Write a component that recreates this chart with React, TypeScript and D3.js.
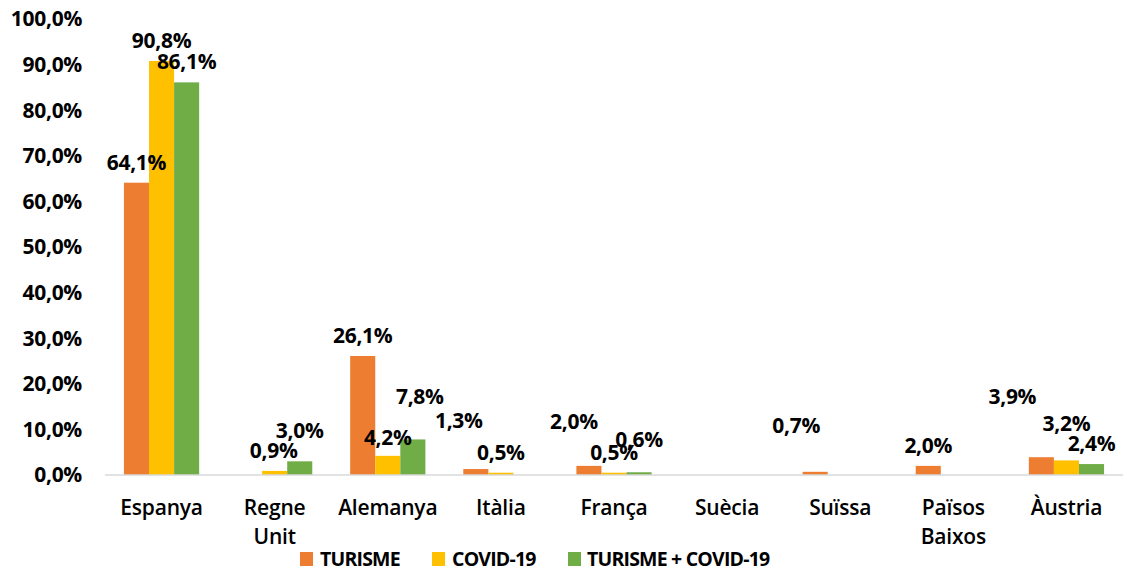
import React from "react";
import * as d3 from "d3";

const categories: string[][] = [
  ["Espanya"], ["Regne", "Unit"], ["Alemanya"], ["Itàlia"], ["França"],
  ["Suècia"], ["Suïssa"], ["Països", "Baixos"], ["Àustria"],
];
const seriesNames = ["TURISME", "COVID-19", "TURISME + COVID-19"];
const turisme = [64.1, null, 26.1, 1.3, 2.0, null, 0.7, 2.0, 3.9];
const covid = [90.8, 0.9, 4.2, 0.5, 0.5, null, null, null, 3.2];
const ambdos = [86.1, 3.0, 7.8, null, 0.6, null, null, null, 2.4];
const yTicks = [0, 10, 20, 30, 40, 50, 60, 70, 80, 90, 100];
const colors = ["#ED7D31", "#FFC000", "#70AD47"];

// label offsets (layout only): [series][category] -> [dx, dy]
const labelOffsets: Record<string, [number, number]> = {
  "1-1": [-1, 0],
  "2-1": [0, -10],
  "2-2": [7, -22],
  "0-3": [-17, -28],
  "0-4": [-15, -24],
  "2-4": [0, -12],
  "0-6": [-19, -26],
  "0-8": [-29, -40],
  "1-8": [0, -16],
  "1-2": [0, 2],
};

const W = 1124;
const H = 571;
const FONT = "'Open Sans', 'Noto Sans', sans-serif";

export default function App() {
  const margin = { left: 105, right: 1, top: 19, bottom: 96 };
  const x = d3.scaleBand<number>()
    .domain(categories.map((_, i) => i))
    .range([margin.left, W - margin.right])
    .paddingInner(0.335)
    .paddingOuter(0.1675);
  const y = d3.scaleLinear().domain([0, 100]).range([475, 19]);
  const x1 = d3.scaleBand<number>().domain([0, 1, 2]).range([0, x.bandwidth()]);
  const series = [turisme, covid, ambdos];
  const fmt = (v: number) => v.toFixed(1).replace(".", ",") + "%";

  const legendItems = [
    { x: 300, tx: 320 },
    { x: 432, tx: 452 },
    { x: 568, tx: 587 },
  ];

  return (
    <svg width={W} height={H} style={{ position: "absolute", left: 0, top: 0, background: "#fff" }} fontFamily={FONT}>
      {yTicks.map((t) => (
        <text key={t} x={82} y={y(t)} dy="0.35em" textAnchor="end" fontSize={21} fontWeight="bold" fill="#000" letterSpacing={-0.3}>
          {fmt(t)}
        </text>
      ))}
      {series.map((s, si) =>
        s.map((v, ci) =>
          v == null ? null : (
            <rect key={`b${si}-${ci}`} x={(x(ci) as number) + (x1(si) as number)} y={y(v)}
              width={x1.bandwidth()} height={y(0) - y(v)} fill={colors[si]} />
          )
        )
      )}
      <line x1={margin.left} x2={W - margin.right} y1={y(0)} y2={y(0)} stroke="#D9D9D9" strokeWidth={1.5} />
      {series.map((s, si) =>
        s.map((v, ci) => {
          if (v == null) return null;
          const off = labelOffsets[`${si}-${ci}`] || [0, 0];
          const cx = (x(ci) as number) + (x1(si) as number) + x1.bandwidth() / 2 + off[0];
          const cy = y(v) - 13 + off[1];
          return (
            <text key={`l${si}-${ci}`} x={cx} y={cy} textAnchor="middle" fontSize={21} fontWeight="bold" fill="#000" letterSpacing={-0.3}>
              {fmt(v)}
            </text>
          );
        })
      )}
      {categories.map((c, ci) => (
        <text key={`c${ci}`} x={(x(ci) as number) + x.bandwidth() / 2} y={515} textAnchor="middle" fontSize={21} fontWeight={600} fill="#000" letterSpacing={-0.2}>
          {c.map((line, li) => (
            <tspan key={li} x={(x(ci) as number) + x.bandwidth() / 2} dy={li === 0 ? 0 : 29}>{line}</tspan>
          ))}
        </text>
      ))}
      {seriesNames.map((n, i) => (
        <g key={n}>
          <rect x={legendItems[i].x} y={552} width={13} height={14} fill={colors[i]} />
          <text x={legendItems[i].tx} y={566} fontSize={19.5} fontWeight={700} fill="#000" letterSpacing={-0.8}>{n}</text>
        </g>
      ))}
    </svg>
  );
}
